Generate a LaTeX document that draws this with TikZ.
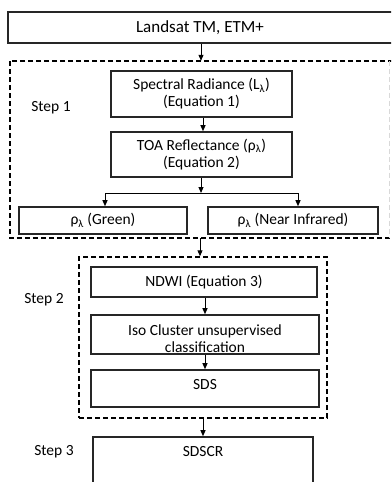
\documentclass[tikz,border=0pt]{standalone}
\usepackage{fontspec}
\setmainfont{Carlito}
\usetikzlibrary{arrows.meta,calc}
\begin{document}
\begin{tikzpicture}[x=1pt,y=-1pt,
  box/.style={draw=black!85, line width=1.6pt, rectangle, inner sep=0pt, align=center,
    font=\fontsize{15.5}{17}\selectfont},
  txt/.style={inner sep=0pt, align=center, font=\fontsize{15.5}{17}\selectfont},
  dashline/.style={line width=1.5pt, dash pattern=on 5pt off 3pt},
  arr/.style={line width=1pt, -{Triangle[length=6pt,width=5pt]}}]
\useasboundingbox (0,0) rectangle (391,482);
\clip (0,0) rectangle (391,482);
\fill[white] (0,0) rectangle (391,482);
% top
\node[box, minimum width=388pt, minimum height=31pt, font=\fontsize{17}{19}\selectfont] (landsat) at (202,27.5) {\hspace*{-4pt}Landsat TM, ETM+};
% step 1 frame
\node[minimum width=379pt, minimum height=177pt, inner sep=0pt] (s1) at (199.5,149.5) {};
\draw[dashline] ($(s1.north east)+(4,0)$) -- (s1.north west) -- (s1.south west) -- ($(s1.south east)+(4,0)$);
\draw[dashline, line width=1pt, black!15] (s1.north east) -- (s1.south east);
\node[txt] (step1) at (51,108) {Step 1};
\node[box, minimum width=181pt, minimum height=46pt] (spec) at (201.5,94) {Spectral Radiance (L\textsubscript{λ})\\(Equation 1)};
\node[box, minimum width=181pt, minimum height=45pt] (toa) at (201.5,154.5) {TOA Reflectance (ρ\textsubscript{λ})\\(Equation 2)};
\node[box, minimum width=168pt, minimum height=27pt] (green) at (103,220.5) {ρ\textsubscript{λ} (Green)};
\node[box, minimum width=170pt, minimum height=27pt] (nir) at (293,220.5) {ρ\textsubscript{λ} (Near Infrared)};
\coordinate (j) at (201,193);
\coordinate (jl) at (105,193);
\coordinate (jr) at (298,193);
% step 2 frame
\node[draw, dashline, minimum width=248pt, minimum height=161pt, inner sep=0pt] (s2) at (203,337.5) {};
\node[txt] (step2) at (44,300) {Step 2};
\node[box, minimum width=226pt, minimum height=30pt] (ndwi) at (204,282) {NDWI (Equation 3)};
\node[box, minimum width=228pt, minimum height=39pt] (iso) at (205,334.5) {};
\node[txt] (isot) at (205,338.5) {Iso Cluster unsupervised\\classification};
\node[box, minimum width=228pt, minimum height=37pt] (sds) at (205,388.5) {};
\node[txt] (sdst) at (205,385) {SDS};
% step 3
\node[box, minimum width=220pt, minimum height=80pt] (sdscr) at (203,477) {};
\node[txt] (sdscrt) at (203,452) {SDSCR};
\node[txt] (step3) at (54,452) {Step 3};
% arrows
\draw[arr] (landsat.south -| 201,0) -- (s1.north -| 201,0);
\draw[arr] (spec.south -| 203,0) -- (toa.north -| 203,0);
\draw[arr] (toa.south -| j) -- (j);
\draw[line width=1pt] (jl) -- (jr);
\draw[arr] (jl) -- (green.north -| jl);
\draw[arr] (jr) -- (nir.north -| jr);
\draw[arr] (s1.south -| 200,0) -- (s2.north -| 200,0);
\draw[arr] (ndwi.south -| 205,0) -- (iso.north -| 205,0);
\draw[arr] (iso.south -| 205,0) -- (sds.north -| 205,0);
\draw[arr] (s2.south -| 203,0) -- (sdscr.north -| 203,0);
\end{tikzpicture}
\end{document}
